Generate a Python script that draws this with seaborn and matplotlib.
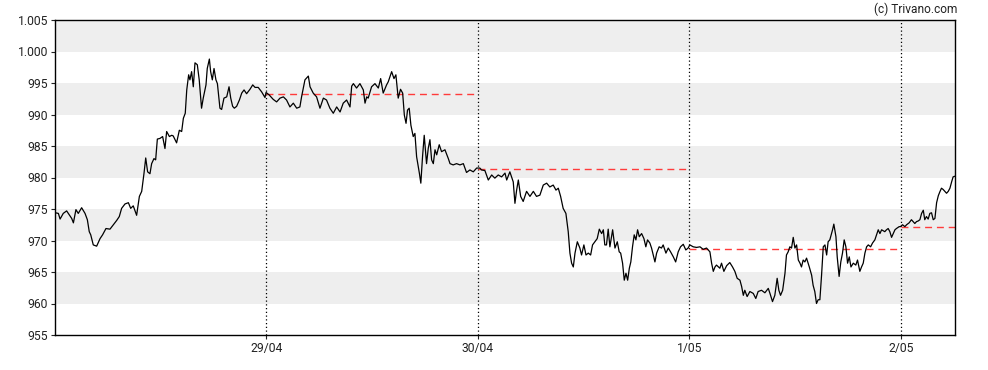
import matplotlib
matplotlib.use("Agg")
import matplotlib.pyplot as plt
import seaborn as sns
import numpy as np
import pandas as pd

# ---------------- data (time in days from start, price) ----------------
t_d1 = [0.002, 0.016, 0.024, 0.039, 0.055, 0.071, 0.079, 0.087, 0.099, 0.110,
        0.126, 0.142, 0.153, 0.162, 0.169, 0.181, 0.197, 0.213, 0.225, 0.241,
        0.260, 0.276, 0.292, 0.304, 0.315, 0.331, 0.347, 0.358, 0.370, 0.386,
        0.399, 0.410, 0.421, 0.429, 0.438, 0.449, 0.457, 0.468, 0.476, 0.484,
        0.496, 0.509, 0.520, 0.528, 0.541, 0.552, 0.559, 0.575, 0.588, 0.599,
        0.607, 0.616, 0.623, 0.632, 0.638, 0.646, 0.654, 0.662, 0.673, 0.682,
        0.693, 0.701, 0.714, 0.720, 0.730, 0.736, 0.744, 0.752, 0.761, 0.768,
        0.780, 0.788, 0.799, 0.812, 0.823, 0.831, 0.840, 0.848, 0.859, 0.872,
        0.883, 0.894, 0.906, 0.922, 0.935, 0.946, 0.961, 0.977, 0.993]
p_d1 = [974.4, 974.3, 973.4, 974.3, 974.7, 973.9, 973.5, 972.8, 974.9, 974.3,
        975.2, 974.3, 973.3, 971.4, 970.9, 969.3, 969.1, 970.3, 970.9, 971.9,
        971.8, 972.5, 973.2, 973.8, 975.1, 975.8, 976.0, 975.1, 975.5, 974.0,
        977.0, 977.8, 980.7, 983.1, 980.9, 980.6, 982.2, 983.0, 982.8, 986.1,
        986.2, 986.5, 984.6, 987.3, 986.5, 986.7, 986.6, 985.5, 987.5, 987.3,
        989.4, 990.2, 993.9, 996.3, 995.5, 996.8, 994.4, 998.2, 997.9, 995.5,
        991.0, 992.6, 994.7, 997.3, 998.8, 996.8, 995.5, 997.3, 995.5, 994.9,
        991.0, 990.8, 992.6, 992.8, 994.4, 992.6, 991.3, 991.0, 991.3, 992.3,
        993.4, 993.9, 993.3, 994.0, 994.7, 994.3, 994.3, 993.6, 992.7]

t_d2 = [0.998, 1.013, 1.032, 1.048, 1.064, 1.080, 1.095, 1.111, 1.127, 1.143,
        1.158, 1.166, 1.182, 1.198, 1.206, 1.221, 1.237, 1.253, 1.269, 1.284,
        1.300, 1.316, 1.332, 1.348, 1.363, 1.379, 1.395, 1.403, 1.411, 1.426,
        1.442, 1.458, 1.466, 1.474, 1.481, 1.497, 1.513, 1.529, 1.540, 1.552,
        1.568, 1.576, 1.592, 1.603, 1.612, 1.623, 1.634, 1.644, 1.652, 1.660,
        1.667, 1.675, 1.683, 1.694, 1.702, 1.710, 1.723, 1.730, 1.738, 1.746,
        1.757, 1.765, 1.773, 1.781, 1.789, 1.797, 1.805, 1.817, 1.828, 1.844,
        1.860, 1.868, 1.883, 1.899, 1.915, 1.931, 1.946, 1.962, 1.978, 1.994]
p_d2 = [993.5, 993.1, 992.4, 992.0, 992.6, 992.8, 992.3, 991.2, 991.8, 991.0,
        991.2, 992.8, 995.5, 996.1, 994.4, 993.4, 992.8, 991.0, 992.6, 992.3,
        991.0, 990.2, 991.2, 990.4, 991.8, 992.3, 991.2, 994.5, 994.9, 994.2,
        994.9, 993.9, 991.8, 992.8, 992.6, 994.4, 994.9, 994.2, 995.7, 993.4,
        994.7, 995.2, 996.8, 995.7, 996.3, 992.6, 994.0, 993.4, 989.9, 988.6,
        990.7, 991.0, 988.3, 986.5, 987.0, 983.3, 980.7, 979.1, 983.3, 986.7,
        982.2, 984.6, 986.0, 982.8, 982.2, 984.4, 983.6, 985.2, 984.1, 984.4,
        983.0, 982.2, 982.0, 982.2, 982.0, 982.2, 980.8, 981.2, 980.9, 981.5]

t_d3 = [2.009, 2.017, 2.033, 2.049, 2.065, 2.080, 2.096, 2.112, 2.128, 2.136,
        2.151, 2.167, 2.175, 2.183, 2.191, 2.202, 2.214, 2.230, 2.246, 2.262,
        2.277, 2.293, 2.309, 2.325, 2.340, 2.356, 2.369, 2.380, 2.391, 2.403,
        2.416, 2.427, 2.435, 2.443, 2.451, 2.459, 2.470, 2.482, 2.490, 2.501,
        2.511, 2.522, 2.533, 2.542, 2.553, 2.564, 2.574, 2.585, 2.593, 2.600,
        2.608, 2.616, 2.624, 2.637, 2.648, 2.659, 2.668, 2.675, 2.684, 2.692,
        2.700, 2.708, 2.716, 2.723, 2.731, 2.739, 2.747, 2.755, 2.763, 2.774,
        2.785, 2.794, 2.802, 2.813, 2.821, 2.829, 2.837, 2.845, 2.857, 2.868,
        2.876, 2.889, 2.900, 2.911, 2.924, 2.935, 2.947, 2.958, 2.971, 2.983,
        2.994]
p_d3 = [981.5, 981.2, 981.1, 979.6, 980.4, 979.9, 980.4, 980.1, 980.7, 979.6,
        980.9, 979.3, 975.9, 978.0, 979.6, 977.0, 976.2, 977.8, 977.0, 977.8,
        977.0, 977.2, 978.8, 979.1, 978.5, 978.8, 978.0, 978.3, 977.0, 975.1,
        974.3, 971.4, 968.0, 966.4, 965.8, 968.0, 969.8, 968.8, 967.7, 969.3,
        967.7, 968.0, 967.7, 969.3, 969.8, 970.3, 971.8, 971.1, 971.7, 969.3,
        969.3, 971.8, 969.0, 971.7, 968.8, 969.8, 968.2, 968.0, 966.4, 963.7,
        964.8, 963.7, 965.6, 966.6, 969.0, 970.9, 970.1, 971.7, 970.6, 971.1,
        970.3, 969.0, 970.1, 969.6, 968.8, 967.7, 966.6, 968.0, 969.0, 968.8,
        969.3, 968.0, 968.8, 968.2, 967.4, 966.6, 968.2, 969.0, 969.4, 968.5,
        968.8]

t_d4 = [3.002, 3.018, 3.034, 3.050, 3.065, 3.081, 3.097, 3.105, 3.113, 3.121,
        3.128, 3.144, 3.152, 3.163, 3.176, 3.191, 3.204, 3.215, 3.226, 3.239,
        3.247, 3.255, 3.262, 3.273, 3.286, 3.302, 3.314, 3.325, 3.341, 3.357,
        3.373, 3.381, 3.393, 3.404, 3.415, 3.423, 3.431, 3.441, 3.452, 3.459,
        3.467, 3.475, 3.483, 3.491, 3.499, 3.507, 3.515, 3.523, 3.530, 3.538,
        3.546, 3.554, 3.567, 3.578, 3.585, 3.593, 3.601, 3.609, 3.617, 3.625,
        3.633, 3.641, 3.649, 3.656, 3.664, 3.677, 3.683, 3.693, 3.699, 3.708,
        3.716, 3.724, 3.732, 3.740, 3.748, 3.756, 3.764, 3.775, 3.787, 3.795,
        3.806, 3.814, 3.822, 3.830, 3.838, 3.846, 3.857, 3.866, 3.877, 3.885,
        3.893, 3.901, 3.909, 3.924, 3.932, 3.940, 3.948, 3.956, 3.964, 3.972,
        3.979, 3.992]
p_d4 = [969.3, 969.0, 968.9, 969.0, 968.6, 968.8, 968.2, 966.4, 965.1, 965.8,
        966.1, 965.6, 966.4, 965.1, 966.0, 966.5, 965.8, 965.1, 964.0, 963.7,
        962.7, 961.3, 962.1, 961.1, 961.9, 961.6, 960.8, 961.9, 962.1, 961.7,
        962.4, 961.6, 960.3, 961.3, 964.0, 962.1, 961.3, 962.1, 964.8, 967.7,
        968.2, 969.0, 968.8, 970.5, 968.8, 969.3, 966.9, 966.4, 965.8, 966.9,
        966.6, 967.2, 965.8, 964.5, 962.9, 961.9, 960.0, 960.6, 960.6, 964.5,
        969.0, 969.3, 967.7, 969.8, 970.1, 971.7, 972.6, 970.6, 967.4, 964.3,
        966.6, 968.0, 970.1, 969.0, 966.4, 967.4, 965.8, 966.4, 966.1, 966.9,
        965.1, 965.8, 966.4, 968.0, 969.0, 969.3, 969.0, 969.6, 970.1, 970.9,
        971.7, 971.1, 971.7, 971.4, 971.7, 971.9, 971.4, 970.5, 971.1, 971.7,
        971.9, 972.2]

t_d5 = [3.998, 4.008, 4.019, 4.027, 4.039, 4.050, 4.058, 4.066, 4.074, 4.082,
        4.090, 4.098, 4.106, 4.113, 4.121, 4.129, 4.137, 4.145, 4.153, 4.161,
        4.169, 4.177, 4.184, 4.192, 4.200, 4.208, 4.216, 4.224, 4.232, 4.240,
        4.247, 4.255]
p_d5 = [972.2, 972.5, 972.2, 972.5, 972.8, 973.3, 973.0, 972.7, 973.0, 973.1,
        973.3, 974.3, 974.8, 973.3, 973.8, 973.4, 974.3, 974.4, 973.3, 973.5,
        976.0, 977.1, 977.7, 978.3, 978.1, 977.8, 977.5, 977.8, 978.3, 979.3,
        980.1, 980.2]

day_pos = [1, 2, 3, 4]
day_labels = ["29/04", "30/04", "1/05", "2/05"]
ref_levels = [993.2, 981.35, 968.7, 972.1]
y_ticks = [955, 960, 965, 970, 975, 980, 985, 990, 995, 1000, 1005]
y_labels = ["955", "960", "965", "970", "975", "980", "985", "990", "995", "1.000", "1.005"]
x_end = 4.256

df = pd.DataFrame({
    "t": t_d1 + t_d2 + t_d3 + t_d4 + t_d5,
    "price": p_d1 + p_d2 + p_d3 + p_d4 + p_d5,
})

# ---------------- plot ----------------
sns.set_style("white")
plt.rcParams["font.family"] = ["Roboto", "DejaVu Sans"]

fig = plt.figure(figsize=(9.88, 3.70), dpi=100)
ax = fig.add_axes([55 / 988, 1 - 335 / 370, 900 / 988, 315 / 370])

# alternating bands
for lo in range(960, 1005, 10):
    ax.axhspan(lo, lo + 5, color="#eeeeee", lw=0, zorder=0)

# day separators
for d in day_pos:
    ax.axvline(d, color="black", lw=0.9, ls=(0, (1, 2)), zorder=1)

# reference levels per day
for d, lvl in zip(day_pos, ref_levels):
    ax.plot([d, min(d + 0.995, x_end)], [lvl, lvl], color="#ff3b3b",
            lw=1.0, ls=(0, (5, 3.5)), zorder=2)

sns.lineplot(data=df, x="t", y="price", ax=ax, color="black", lw=0.9,
             sort=False, estimator=None, zorder=3)

ax.set_xlim(0, x_end)
ax.set_ylim(955, 1005)
ax.set_xticks(day_pos)
ax.set_xticklabels(day_labels)
ax.set_yticks(y_ticks)
ax.set_yticklabels(y_labels)
ax.set_xlabel("")
ax.set_ylabel("")
ax.tick_params(axis="both", labelsize=8.7, colors="#222222", length=3, width=0.8,
               direction="out", pad=2)
ax.tick_params(axis="both", left=True, bottom=True)
for s in ax.spines.values():
    s.set_visible(True)
    s.set_color("black")
    s.set_linewidth(1.0)

fig.text(957 / 988, 1 - 9 / 370, "(c) Trivano.com", ha="right", va="center",
         fontsize=8.6, color="#222222")

fig.savefig("out.png", dpi=100)
